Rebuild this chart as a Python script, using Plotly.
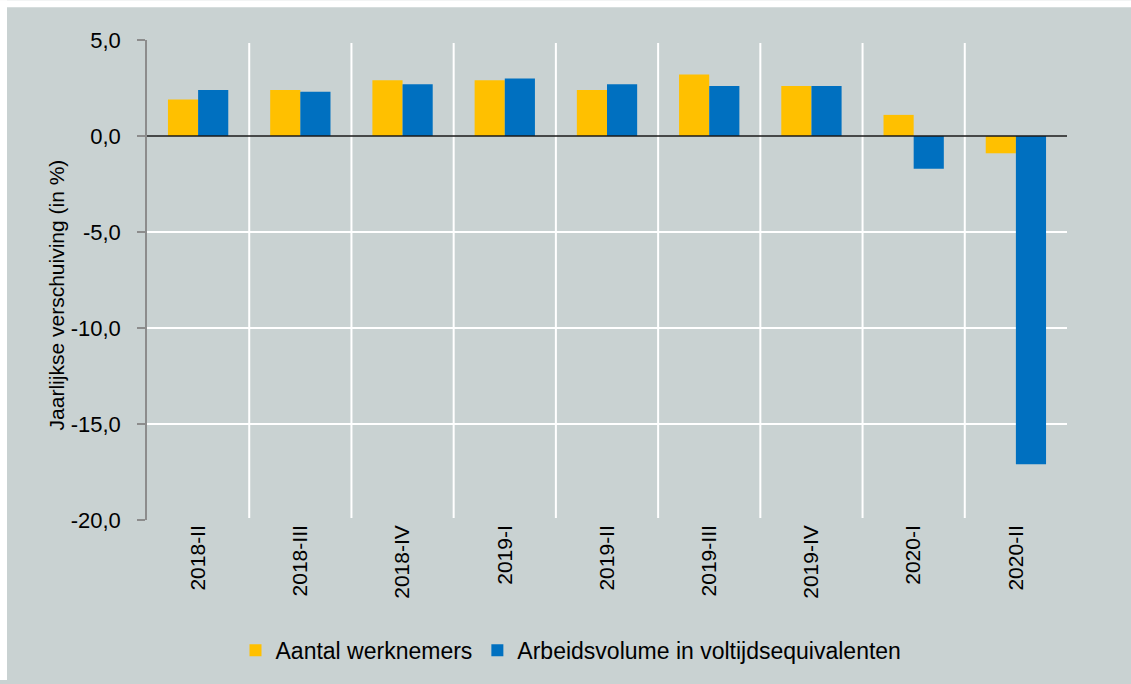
import plotly.graph_objects as go

# Kwartalen en jaarlijkse verschuiving (in %)
quarters = ["2018-II", "2018-III", "2018-IV", "2019-I", "2019-II",
            "2019-III", "2019-IV", "2020-I", "2020-II"]
werknemers = [1.9, 2.4, 2.9, 2.9, 2.4, 3.2, 2.6, 1.1, -0.9]
arbeidsvolume = [2.4, 2.3, 2.7, 3.0, 2.7, 2.6, 2.6, -1.7, -17.1]

y_ticks = [5, 0, -5, -10, -15, -20]
y_ticktext = ["5,0", "0,0", "-5,0", "-10,0", "-15,0", "-20,0"]

BG = "#c9d2d2"
FONT = "Liberation Sans, Arial, sans-serif"

fig = go.Figure()
fig.add_trace(go.Bar(x=quarters, y=werknemers, name="Aantal werknemers",
                     marker=dict(color="#ffc000", line=dict(width=0))))
fig.add_trace(go.Bar(x=quarters, y=arbeidsvolume,
                     name="Arbeidsvolume in voltijdsequivalenten",
                     marker=dict(color="#0070c0", line=dict(width=0))))

# plot area in window pixels: x 147..1067, y 40..523
W, H = 1131, 684
L, R, T, B = 147, 64, 40, 161
pw, ph = W - L - R, H - T - B

shapes = []
# thin white strip along the top and left edge
shapes.append(dict(type="rect", xref="paper", yref="paper", layer="below",
                   x0=-L / pw, x1=(W - L) / pw,
                   y0=(H - B - 7) / ph, y1=(H - B) / ph,
                   fillcolor="white", line=dict(width=0)))
shapes.append(dict(type="rect", xref="paper", yref="paper", layer="below",
                   x0=-L / pw, x1=(7 - L) / pw,
                   y0=-B / ph, y1=(H - B) / ph,
                   fillcolor="white", line=dict(width=0)))
# vertical separators between quarters
for i in range(len(quarters) - 1):
    shapes.append(dict(type="line", xref="x", yref="paper", layer="below",
                       x0=i + 0.5, x1=i + 0.5, y0=0.004, y1=0.994,
                       line=dict(color="white", width=2)))
# horizontal gridlines
for v in [-5, -10, -15]:
    shapes.append(dict(type="line", xref="paper", yref="y", layer="below",
                       x0=0, x1=1, y0=v, y1=v,
                       line=dict(color="white", width=2)))
# zero line
shapes.append(dict(type="line", xref="paper", yref="y", layer="above",
                   x0=0, x1=1, y0=0, y1=0,
                   line=dict(color="#1a1a1a", width=1.6)))

fig.update_layout(
    width=W, height=H,
    margin=dict(l=L, r=R, t=T, b=B),
    paper_bgcolor=BG,
    plot_bgcolor=BG,
    font=dict(family=FONT, color="black", size=20),
    barmode="group",
    bargap=0.41,
    bargroupgap=0,
    shapes=shapes,
    showlegend=True,
    legend=dict(orientation="h", x=(571 - L) / pw, xanchor="center",
                y=(523 - 654) / ph, yanchor="middle",
                font=dict(size=23), bgcolor="rgba(0,0,0,0)",
                itemwidth=30, traceorder="normal"),
    xaxis=dict(showgrid=False, zeroline=False, showline=False,
               tickangle=-90, tickfont=dict(size=21), ticks=""),
    yaxis=dict(range=[-20, 5], tickvals=y_ticks, ticktext=y_ticktext,
               showgrid=False, zeroline=False, showline=True,
               linecolor="#8c8c8c", linewidth=1.5,
               ticks="outside", ticklen=8, tickcolor="#8c8c8c", tickwidth=1.5,
               ticklabelstandoff=12,
               tickfont=dict(size=22)),
    annotations=[dict(text="Jaarlijkse verschuiving (in %)",
                      xref="paper", yref="paper",
                      x=(56 - L) / pw, y=(523 - 297) / ph,
                      xanchor="center", yanchor="middle",
                      textangle=-90, showarrow=False,
                      font=dict(size=21))],
)

# drop the default page margin so the figure fills the window exactly
fig.write_html("out.html", config={"displayModeBar": False}, post_script=(
    "document.body.style.margin='0';"
    "document.body.style.overflow='hidden';"
    "document.body.style.background='" + BG + "';"))
